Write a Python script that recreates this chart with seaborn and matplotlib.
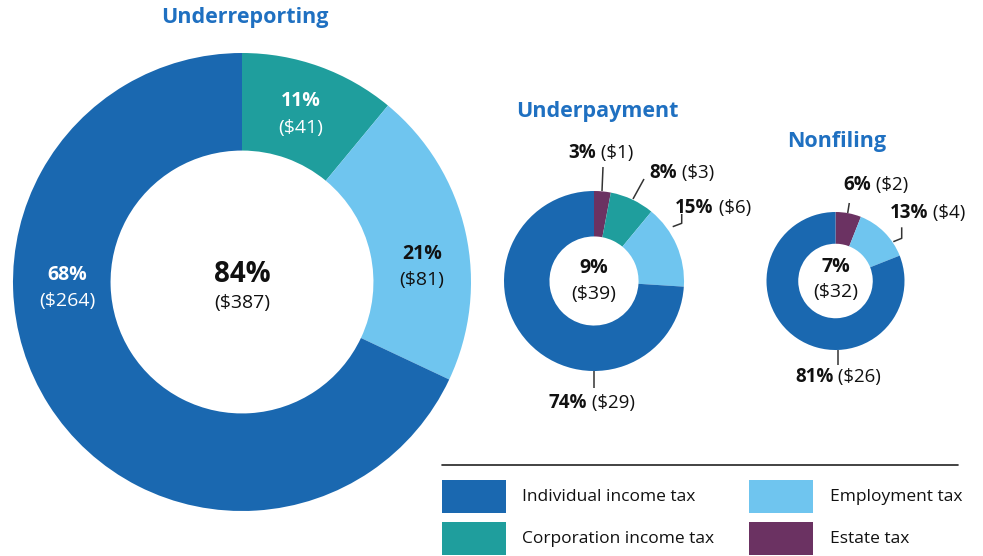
import matplotlib
matplotlib.use("Agg")
import matplotlib.pyplot as plt
import seaborn as sns
from matplotlib.patches import Rectangle

# ---------------- data ----------------
categories = ["Individual income tax", "Corporation income tax", "Employment tax", "Estate tax"]
palette = ["#1a68b0", "#1f9e9d", "#6fc5ef", "#6b3262"]

rep_cats = ["Corporation income tax", "Employment tax", "Individual income tax"]
rep_pct = [11, 21, 68]
rep_usd = [41, 81, 264]
rep_total_pct, rep_total_usd = 84, 387

pay_cats = ["Estate tax", "Corporation income tax", "Employment tax", "Individual income tax"]
pay_pct = [3, 8, 15, 74]
pay_usd = [1, 3, 6, 29]
pay_total_pct, pay_total_usd = 9, 39

nf_cats = ["Estate tax", "Employment tax", "Individual income tax"]
nf_pct = [6, 13, 81]
nf_usd = [2, 4, 26]
nf_total_pct, nf_total_usd = 7, 32

titles = ["Underreporting", "Underpayment", "Nonfiling"]

# ---------------- style ----------------
sns.set_theme(style="white")
FONT = ["Open Sans", "DejaVu Sans"]
plt.rcParams["font.family"] = FONT
cmap = dict(zip(categories, sns.color_palette(palette)))
TITLE_C = "#1f70c1"
TXT = "#111111"
BW = "bold"

W, H = 983, 556
fig = plt.figure(figsize=(W / 100, H / 100), dpi=100)
ax = fig.add_axes([0, 0, 1, 1])

def Y(y):
    return H - y

def donut(cats, vals, cx, cy, R, ratio):
    ax.pie(vals, colors=[cmap[c] for c in cats], startangle=90, counterclock=False,
           center=(cx, Y(cy)), radius=R, frame=True,
           wedgeprops=dict(width=R * (1 - ratio), edgecolor="none", linewidth=0))

donut(rep_cats, rep_pct, 242, 282, 229, 0.574)
donut(pay_cats, pay_pct, 594, 281, 90, 0.495)
donut(nf_cats, nf_pct, 835.5, 281, 69, 0.54)

ax.set_xlim(0, W)
ax.set_ylim(0, H)
ax.set_aspect("equal")
ax.axis("off")

# titles
for t, (x, y) in zip(titles, [(245, 18), (597, 111), (837, 142)]):
    ax.text(x, Y(y), t, ha="center", va="center", fontsize=15.5, fontweight="bold", color=TITLE_C)

def two_line(x, y1, y2, pct, usd, color, s1=14, s2=14):
    ax.text(x, Y(y1), f"{pct}%", ha="center", va="center", fontsize=s1, fontweight=BW, color=color)
    ax.text(x, Y(y2), f"(${usd})", ha="center", va="center", fontsize=s2, color=color)

# big donut labels
two_line(301, 101, 128, rep_pct[0], rep_usd[0], "white")
two_line(422, 254, 280, rep_pct[1], rep_usd[1], TXT)
two_line(67, 275, 301, rep_pct[2], rep_usd[2], "white")
two_line(242, 274, 303, rep_total_pct, rep_total_usd, TXT, s1=20, s2=14)

# center labels small donuts
two_line(594, 268, 294, pay_total_pct, pay_total_usd, TXT)
two_line(835.5, 267, 292, nf_total_pct, nf_total_usd, TXT)

fig.canvas.draw()
renderer = fig.canvas.get_renderer()

def rich(x, y, pct, usd, ha="center", size=13.5):
    b = ax.text(0, 0, f"{pct}%", fontsize=size, fontweight=BW, color=TXT, va="center", ha="left")
    r = ax.text(0, 0, f" (${usd})", fontsize=size, color=TXT, va="center", ha="left")
    wb = b.get_window_extent(renderer).width
    wr = r.get_window_extent(renderer).width
    tot = wb + wr
    x0 = x - tot / 2 if ha == "center" else x
    b.set_position((x0, Y(y)))
    r.set_position((x0 + wb, Y(y)))

def leader(pts):
    ax.plot([p[0] for p in pts], [Y(p[1]) for p in pts], color="#333333", lw=1.1,
            solid_capstyle="butt")

# underpayment outside labels
rich(601, 153, pay_pct[0], pay_usd[0])
leader([(602, 191), (603, 167)])
rich(649, 173, pay_pct[1], pay_usd[1], ha="left")
leader([(633, 199), (644, 179)])
rich(675, 208, pay_pct[2], pay_usd[2], ha="left")
leader([(672.7, 226.7), (681.7, 223.3), (681.7, 214)])
rich(592, 403, pay_pct[3], pay_usd[3])
leader([(594, 371), (594, 388)])

# nonfiling outside labels
rich(876, 185, nf_pct[0], nf_usd[0])
leader([(847.7, 213), (849.3, 203)])
rich(890, 213, nf_pct[1], nf_usd[1], ha="left")
leader([(893.3, 241.7), (901.7, 238.3), (901.7, 227.3)])
rich(838, 377, nf_pct[2], nf_usd[2])
leader([(837.7, 350), (837.7, 365)])

# legend
ax.plot([442, 958], [Y(465), Y(465)], color="#222222", lw=1.2)
leg_pos = [(442, 480, 522), (442, 522, 522), (749, 480, 830), (749, 522, 830)]
for cat, (sx, sy, tx) in zip(categories, leg_pos):
    ax.add_patch(Rectangle((sx, Y(sy + 33)), 64, 33, facecolor=cmap[cat], edgecolor="none"))
    ax.text(tx, Y(sy + 17), cat, ha="left", va="center", fontsize=12.5, color=TXT)

fig.savefig("out.png", dpi=100)
